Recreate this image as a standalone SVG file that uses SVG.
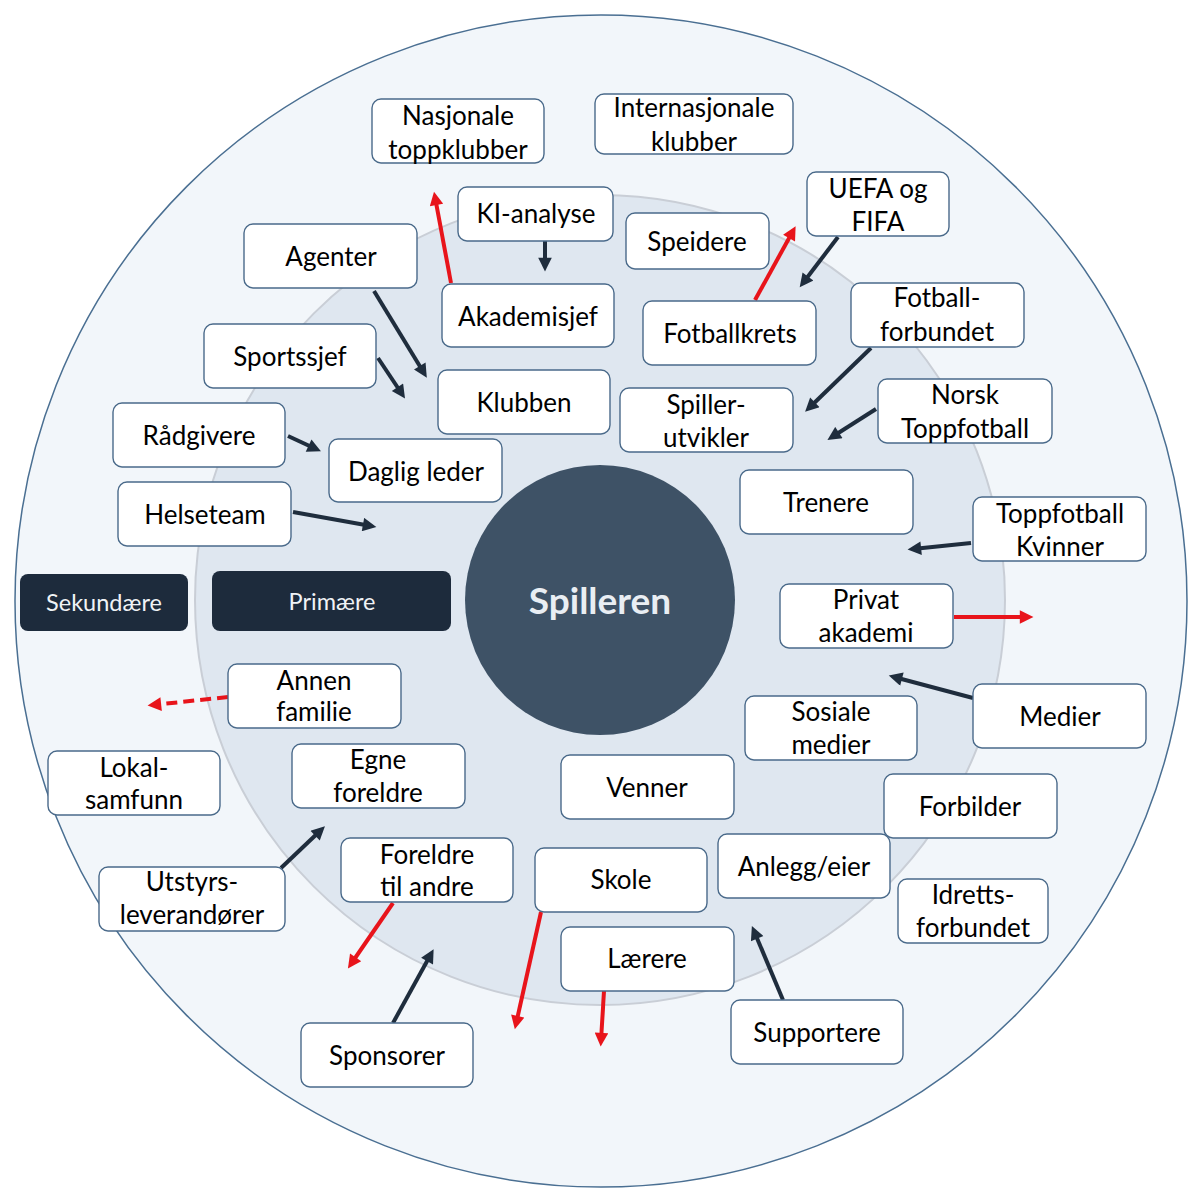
<svg xmlns="http://www.w3.org/2000/svg" width="1200" height="1200" viewBox="0 0 1200 1200">
<style>
.box{fill:#ffffff;stroke:#4a6a8a;stroke-width:1.4}
.t{font-family:Lato,"Open Sans","Liberation Sans",sans-serif;font-size:26px;fill:#000;text-anchor:middle}
.lbl{fill:#1d2b3c}
.lt{font-family:Lato,"Open Sans","Liberation Sans",sans-serif;font-size:23.5px;fill:#f0f3f6;text-anchor:middle}
.dk{stroke:#1f2d3d;stroke-width:4;fill:none;marker-end:url(#ad)}
.rd{stroke:#e8141b;stroke-width:4;fill:none;marker-end:url(#ar)}
</style>
<defs>
<marker id="ad" viewBox="0 0 10 10" refX="6" refY="5" markerWidth="3.8" markerHeight="3.4" orient="auto" markerUnits="strokeWidth"><path d="M0,0 L10,5 L0,10 z" fill="#1f2d3d"/></marker>
<marker id="ar" viewBox="0 0 10 10" refX="6" refY="5" markerWidth="3.8" markerHeight="3.4" orient="auto" markerUnits="strokeWidth"><path d="M0,0 L10,5 L0,10 z" fill="#e8141b"/></marker>
</defs>
<rect width="1200" height="1200" fill="#ffffff"/>
<g id="rings">
<circle cx="601" cy="601" r="586" fill="#f2f6fa" stroke="#4a6f92" stroke-width="1.5"/>
<circle cx="600" cy="600" r="405" fill="#dfe7f0" stroke="#c9ced6" stroke-width="2"/>
</g>
<g id="spilleren">
<circle cx="600" cy="600" r="135" fill="#3e5266"/>
<text x="600" y="614" font-family="Lato,'Open Sans','Liberation Sans',sans-serif" font-size="37" font-weight="bold" fill="#e9eef3" text-anchor="middle">Spilleren</text>
</g>
<g id="connectors">
<line class="dk" x1="374" y1="291" x2="424" y2="373"/>
<line class="dk" x1="378" y1="358" x2="402" y2="394"/>
<line class="dk" x1="545" y1="241" x2="545" y2="266"/>
<line class="dk" x1="288" y1="436" x2="316" y2="449"/>
<line class="dk" x1="293" y1="512" x2="371" y2="526"/>
<line class="dk" x1="838" y1="237" x2="803" y2="283"/>
<line class="dk" x1="871" y1="348" x2="809" y2="408"/>
<line class="dk" x1="876" y1="409" x2="832" y2="437"/>
<line class="dk" x1="971" y1="543" x2="913" y2="549"/>
<line class="dk" x1="973" y1="698" x2="894" y2="677"/>
<line class="dk" x1="783" y1="1000" x2="754" y2="931"/>
<line class="dk" x1="393" y1="1023" x2="431" y2="954"/>
<line class="dk" x1="281" y1="868" x2="321" y2="830"/>
<line class="rd" x1="451" y1="283" x2="435" y2="197"/>
<line class="rd" x1="755" y1="300" x2="793" y2="231"/>
<line class="rd" x1="954" y1="617" x2="1028" y2="617"/>
<line class="rd" x1="228" y1="697" x2="153" y2="705" stroke-dasharray="11 6"/>
<line class="rd" x1="393" y1="903" x2="351" y2="964"/>
<line class="rd" x1="541" y1="912" x2="516" y2="1024"/>
<line class="rd" x1="604" y1="991" x2="601" y2="1041"/>
</g>
<g id="nasjonale"><rect class="box" x="372" y="99" width="172" height="64" rx="9"/><text class="t" x="458" y="125">Nasjonale</text><text class="t" x="458" y="159">toppklubber</text></g>
<g id="internasjonale"><rect class="box" x="595" y="94" width="198" height="60" rx="9"/><text class="t" x="694" y="117">Internasjonale</text><text class="t" x="694" y="151">klubber</text></g>
<g id="ki"><rect class="box" x="458" y="187" width="155" height="54" rx="9"/><text class="t" x="536" y="223">KI-analyse</text></g>
<g id="speidere"><rect class="box" x="626" y="213" width="143" height="56" rx="9"/><text class="t" x="697" y="251">Speidere</text></g>
<g id="uefa"><rect class="box" x="807" y="172" width="142" height="64" rx="9"/><text class="t" x="878" y="198">UEFA og</text><text class="t" x="878" y="231">FIFA</text></g>
<g id="agenter"><rect class="box" x="244" y="224" width="173" height="64" rx="9"/><text class="t" x="331" y="266">Agenter</text></g>
<g id="akademisjef"><rect class="box" x="442" y="284" width="172" height="63" rx="9"/><text class="t" x="528" y="326">Akademisjef</text></g>
<g id="fotballkrets"><rect class="box" x="643" y="301" width="173" height="64" rx="9"/><text class="t" x="730" y="343">Fotballkrets</text></g>
<g id="fotballforbundet"><rect class="box" x="851" y="283" width="173" height="64" rx="9"/><text class="t" x="937" y="307">Fotball-</text><text class="t" x="937" y="341">forbundet</text></g>
<g id="sportssjef"><rect class="box" x="204" y="324" width="172" height="64" rx="9"/><text class="t" x="290" y="366">Sportssjef</text></g>
<g id="klubben"><rect class="box" x="438" y="370" width="172" height="64" rx="9"/><text class="t" x="524" y="412">Klubben</text></g>
<g id="spillerutvikler"><rect class="box" x="620" y="388" width="173" height="64" rx="9"/><text class="t" x="706" y="414">Spiller-</text><text class="t" x="706" y="447">utvikler</text></g>
<g id="norsktoppfotball"><rect class="box" x="878" y="379" width="174" height="64" rx="9"/><text class="t" x="965" y="404">Norsk</text><text class="t" x="965" y="438">Toppfotball</text></g>
<g id="raadgivere"><rect class="box" x="113" y="403" width="172" height="64" rx="9"/><text class="t" x="199" y="445">Rådgivere</text></g>
<g id="dagligleder"><rect class="box" x="329" y="439" width="173" height="63" rx="9"/><text class="t" x="416" y="481">Daglig leder</text></g>
<g id="helseteam"><rect class="box" x="118" y="482" width="173" height="64" rx="9"/><text class="t" x="205" y="524">Helseteam</text></g>
<g id="trenere"><rect class="box" x="740" y="470" width="173" height="64" rx="9"/><text class="t" x="826" y="512">Trenere</text></g>
<g id="toppfotballkvinner"><rect class="box" x="973" y="497" width="173" height="64" rx="9"/><text class="t" x="1060" y="523">Toppfotball</text><text class="t" x="1060" y="556">Kvinner</text></g>
<g id="sekundaere"><rect class="lbl" x="20" y="574" width="168" height="57" rx="8"/><text class="lt" x="104" y="611">Sekundære</text></g>
<g id="primaere"><rect class="lbl" x="212" y="571" width="239" height="60" rx="8"/><text class="lt" x="332" y="610">Primære</text></g>
<g id="privatakademi"><rect class="box" x="780" y="584" width="173" height="64" rx="9"/><text class="t" x="866" y="609">Privat</text><text class="t" x="866" y="642">akademi</text></g>
<g id="annenfamilie"><rect class="box" x="228" y="664" width="173" height="64" rx="9"/><text class="t" x="314" y="690">Annen</text><text class="t" x="314" y="721">familie</text></g>
<g id="medier"><rect class="box" x="973" y="684" width="173" height="64" rx="9"/><text class="t" x="1060" y="726">Medier</text></g>
<g id="sosialemedier"><rect class="box" x="745" y="696" width="172" height="64" rx="9"/><text class="t" x="831" y="721">Sosiale</text><text class="t" x="831" y="754">medier</text></g>
<g id="lokalsamfunn"><rect class="box" x="48" y="751" width="172" height="64" rx="9"/><text class="t" x="134" y="777">Lokal-</text><text class="t" x="134" y="809">samfunn</text></g>
<g id="egneforeldre"><rect class="box" x="292" y="744" width="173" height="64" rx="9"/><text class="t" x="378" y="769">Egne</text><text class="t" x="378" y="802">foreldre</text></g>
<g id="venner"><rect class="box" x="561" y="755" width="173" height="64" rx="9"/><text class="t" x="647" y="797">Venner</text></g>
<g id="forbilder"><rect class="box" x="884" y="774" width="173" height="64" rx="9"/><text class="t" x="970" y="816">Forbilder</text></g>
<g id="foreldretilandre"><rect class="box" x="341" y="838" width="172" height="64" rx="9"/><text class="t" x="427" y="864">Foreldre</text><text class="t" x="427" y="896">til andre</text></g>
<g id="skole"><rect class="box" x="535" y="848" width="172" height="64" rx="9"/><text class="t" x="621" y="889">Skole</text></g>
<g id="anlegg"><rect class="box" x="718" y="834" width="172" height="64" rx="9"/><text class="t" x="804" y="876">Anlegg/eier</text></g>
<g id="utstyrsleverandorer"><rect class="box" x="99" y="867" width="186" height="64" rx="9"/><text class="t" x="192" y="891">Utstyrs-</text><text class="t" x="192" y="924">leverandører</text></g>
<g id="idrettsforbundet"><rect class="box" x="898" y="879" width="150" height="64" rx="9"/><text class="t" x="973" y="904">Idretts-</text><text class="t" x="973" y="937">forbundet</text></g>
<g id="laerere"><rect class="box" x="561" y="927" width="173" height="64" rx="9"/><text class="t" x="647" y="968">Lærere</text></g>
<g id="supportere"><rect class="box" x="731" y="1000" width="172" height="64" rx="9"/><text class="t" x="817" y="1042">Supportere</text></g>
<g id="sponsorer"><rect class="box" x="301" y="1023" width="172" height="64" rx="9"/><text class="t" x="387" y="1065">Sponsorer</text></g>
</svg>
